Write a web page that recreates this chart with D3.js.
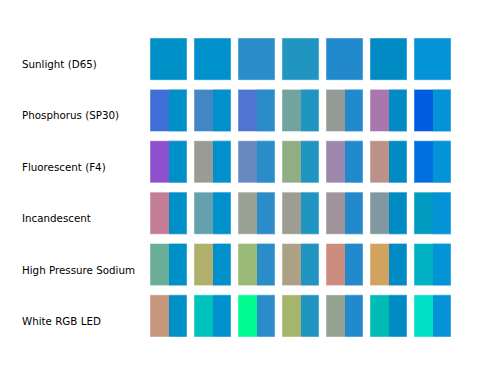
<!DOCTYPE html>
<html>
<head>
<meta charset="utf-8">
<script src="https://cdn.jsdelivr.net/npm/d3@7"></script>
<style>
  body { margin: 0; background: #fff; }
</style>
</head>
<body>
<div id="chart"></div>
<script>
var width = 500,
    height = 375;

// light sources (rows)
var sources = ["Sunlight (D65)", "Phosphorus (SP30)", "Fluorescent (F4)", "Incandescent", "High Pressure Sodium", "White RGB LED"];

// reference colour of each sample under sunlight (columns)
var sunlight = ["#0090c8", "#0091cc", "#2a8cc8", "#2195c2", "#2289cc", "#008bc5", "#0393d6"];

// colour of each sample under the other light sources
var phosphorus = ["#3f6fd6", "#4287c4", "#5075d0", "#72a39f", "#939b94", "#a976ae", "#005ce0"];
var fluorescent = ["#8f50cd", "#9b9b95", "#6888c0", "#91ad84", "#9d88ad", "#bb9188", "#0070e0"];
var incandescent = ["#c47d97", "#64a0ad", "#98a194", "#9e9c93", "#a0939c", "#8298a0", "#009cc0"];
var sodium = ["#6aae98", "#b0b06c", "#99b976", "#aca184", "#cd8d7e", "#d1a35e", "#00b1c4"];
var rgbLed = ["#c8967c", "#00c2bc", "#00fb90", "#a6b56c", "#94a390", "#00bab4", "#00e0c4"];

var rows = [sunlight, phosphorus, fluorescent, incandescent, sodium, rgbLed];

var x = d3.scaleBand()
    .domain(d3.range(sunlight.length))
    .range([150, 451])
    .paddingInner(7 / 44)
    .paddingOuter(0)
    .round(true);

var y = d3.scaleBand()
    .domain(sources)
    .range([38, 337])
    .paddingInner(0.18)
    .paddingOuter(0);

var half = Math.ceil(x.bandwidth() / 2);

const svg = d3.select("#chart").append("svg")
    .attr("width", width)
    .attr("height", height);

const row = svg.selectAll("g.row")
    .data(rows.map((c, i) => ({ name: sources[i], colors: c })))
    .join("g")
    .attr("class", "row")
    .attr("transform", d => `translate(0,${y(d.name)})`);

row.append("text")
    .attr("x", 22)
    .attr("y", y.bandwidth() / 2 + 9)
    .attr("font-family", "DejaVu Sans, sans-serif")
    .attr("font-size", 10.3)
    .attr("fill", "#000")
    .text(d => d.name);

const cell = row.selectAll("g.cell")
    .data((d, i) => d.colors.map((c, j) => ({ c: c, ref: sunlight[j], j: j, first: i === 0 })))
    .join("g")
    .attr("class", "cell")
    .attr("transform", d => `translate(${x(d.j)},0)`);

// full square in the colour under this light
cell.append("rect")
    .attr("width", x.bandwidth())
    .attr("height", y.bandwidth())
    .attr("fill", d => d.c);

// right half: colour under sunlight
cell.filter(d => !d.first).append("rect")
    .attr("x", half)
    .attr("width", x.bandwidth() - half)
    .attr("height", y.bandwidth())
    .attr("fill", d => d.ref);

// faint edge
cell.append("rect")
    .attr("width", x.bandwidth())
    .attr("height", y.bandwidth())
    .attr("fill", "none")
    .attr("stroke", "#fff")
    .attr("stroke-opacity", 0.45)
    .attr("stroke-width", 1);
</script>
</body>
</html>
